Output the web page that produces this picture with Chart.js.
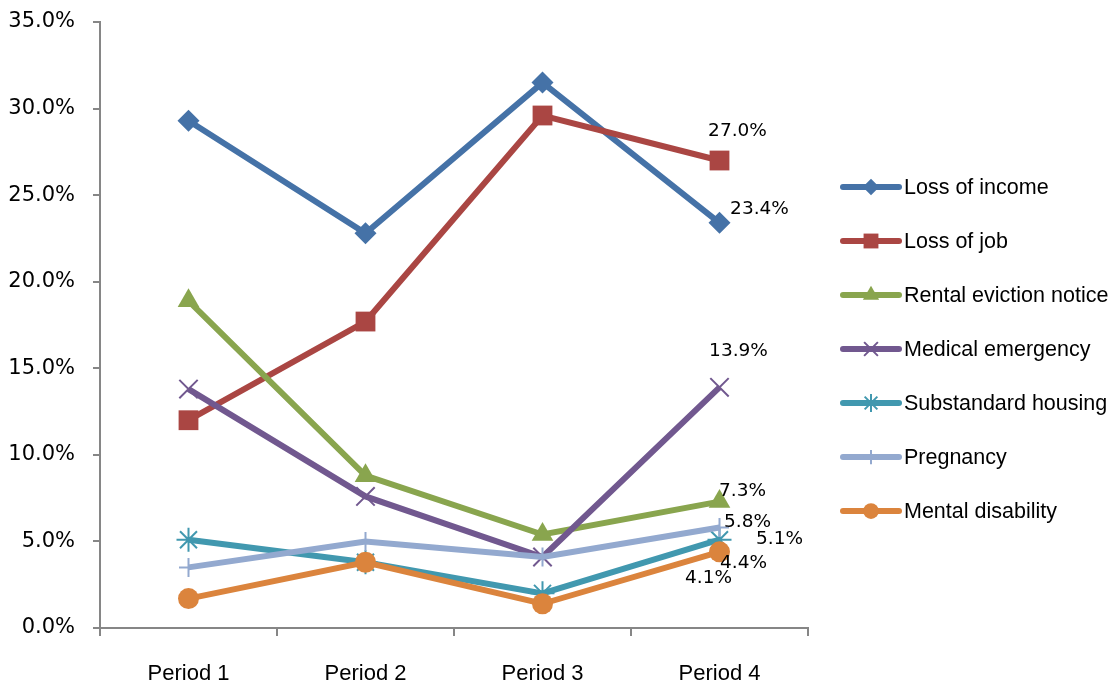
<!DOCTYPE html>
<html>
<head>
<meta charset="utf-8">
<script src="https://cdn.jsdelivr.net/npm/chart.js@4/dist/chart.umd.min.js"></script>
<style>
  html, body { margin: 0; padding: 0; background: #ffffff; }
  #wrap { width: 1118px; height: 684px; position: relative; }
</style>
</head>
<body>
<div id="wrap"><canvas id="c" width="1118" height="684"></canvas></div>
<script>
// Categories and tick values
const periods = ['Period 1', 'Period 2', 'Period 3', 'Period 4'];
const yTicks = [0, 5, 10, 15, 20, 25, 30, 35];

// Series values (percent)
const lossOfIncome        = [29.3, 22.8, 31.5, 23.4];
const lossOfJob           = [12.0, 17.7, 29.6, 27.0];
const rentalEviction      = [18.9, 8.8, 5.4, 7.3];
const medicalEmergency    = [13.8, 7.6, 4.1, 13.9];
const substandardHousing  = [5.1, 3.8, 2.0, 5.1];
const pregnancy           = [3.5, 5.0, 4.1, 5.8];
const mentalDisability    = [1.7, 3.8, 1.4, 4.4];

const seriesNames = ['Loss of income', 'Loss of job', 'Rental eviction notice',
  'Medical emergency', 'Substandard housing', 'Pregnancy', 'Mental disability'];
const seriesData = [lossOfIncome, lossOfJob, rentalEviction, medicalEmergency,
  substandardHousing, pregnancy, mentalDisability];

const colors = ['#4572A7', '#AA4643', '#89A54E', '#71588F', '#4198AF', '#93A9CF', '#DB843D'];
const markers = [
  { style: 'rectRot', r: 11, bw: 0 },
  { style: 'rect', r: 14, bw: 0 },
  { style: 'triangle', r: 12.5, bw: 0 },
  { style: 'crossRot', r: 13, bw: 2 },
  { style: 'star', r: 12, bw: 2 },
  { style: 'cross', r: 9.5, bw: 2 },
  { style: 'circle', r: 10.5, bw: 0 }
];

// Data labels: series index, point index, text offset from the point
const valueLabels = [
  { s: 1, i: 3, dx: 18, dy: -29 },
  { s: 0, i: 3, dx: 40, dy: -14 },
  { s: 3, i: 3, dx: 19, dy: -36 },
  { s: 2, i: 3, dx: 23, dy: -10 },
  { s: 5, i: 3, dx: 28, dy: -5 },
  { s: 4, i: 3, dx: 60, dy: -1 },
  { s: 6, i: 3, dx: 24, dy: 11 },
  { s: 3, i: 2, dx: 0, dy: 21, atIndex: 3, atDx: -11 }
];

const datasets = seriesNames.map((name, k) => ({
  label: name,
  data: seriesData[k],
  borderColor: colors[k],
  backgroundColor: colors[k],
  borderWidth: 6,
  tension: 0,
  clip: false,
  pointStyle: markers[k].style,
  pointRadius: markers[k].r,
  pointHoverRadius: markers[k].r,
  pointBorderWidth: markers[k].bw,
  pointBorderColor: colors[k],
  pointBackgroundColor: colors[k],
  order: seriesNames.length - k
}));

const labelPlugin = {
  id: 'valueLabels',
  afterDatasetsDraw(chart) {
    const ctx = chart.ctx;
    const xs = chart.scales.x, ys = chart.scales.y;
    ctx.save();
    ctx.font = '18.5px "DejaVu Sans"';
    ctx.fillStyle = '#000000';
    ctx.textAlign = 'center';
    ctx.textBaseline = 'middle';
    valueLabels.forEach(l => {
      const v = seriesData[l.s][l.i];
      let x;
      if (l.atIndex !== undefined) {
        x = xs.getPixelForValue(l.atIndex) + l.atDx;
      } else {
        x = xs.getPixelForValue(l.i) + l.dx;
      }
      const y = ys.getPixelForValue(v) + l.dy;
      ctx.fillText(v.toFixed(1) + '%', x, y);
    });
    ctx.restore();
  }
};

const legendPlugin = {
  id: 'sideLegend',
  afterDraw(chart) {
    const ctx = chart.ctx;
    const area = chart.chartArea;
    const x0 = area.right + 35;
    const y0 = area.top + 165;
    const step = 54;
    ctx.save();
    seriesNames.forEach((name, k) => {
      const y = y0 + k * step;
      ctx.strokeStyle = colors[k];
      ctx.lineWidth = 6;
      ctx.lineCap = 'round';
      ctx.beginPath();
      ctx.moveTo(x0, y);
      ctx.lineTo(x0 + 56, y);
      ctx.stroke();
      ctx.lineCap = 'butt';
      ctx.fillStyle = colors[k];
      ctx.strokeStyle = colors[k];
      ctx.lineWidth = markers[k].bw;
      Chart.helpers.drawPoint(ctx, {
        pointStyle: markers[k].style,
        radius: markers[k].r * 0.75,
        rotation: 0,
        borderWidth: markers[k].bw
      }, x0 + 28, y);
      ctx.fillStyle = '#000000';
      ctx.font = '21.5px "Liberation Sans"';
      ctx.textAlign = 'left';
      ctx.textBaseline = 'middle';
      ctx.fillText(name, x0 + 61, y + 1);
    });
    ctx.restore();
  }
};

new Chart(document.getElementById('c'), {
  type: 'line',
  data: { labels: periods, datasets },
  options: {
    responsive: false,
    animation: false,
    events: [],
    layout: { autoPadding: false, padding: { top: 22, right: 310, left: 0, bottom: 0 } },
    plugins: { legend: { display: false }, tooltip: { enabled: false } },
    scales: {
      x: {
        offset: true,
        grid: {
          offset: true,
          drawOnChartArea: false,
          drawTicks: true,
          tickLength: 8,
          color: '#868686',
          lineWidth: 2
        },
        border: { color: '#868686', width: 2 },
        ticks: {
          color: '#000000',
          font: { family: 'Liberation Sans', size: 22 },
          padding: 25,
          maxRotation: 0
        },
        afterFit(scale) { scale.height = 56; scale.paddingLeft = 0; scale.paddingRight = 0; }
      },
      y: {
        min: 0,
        max: 35,
        afterBuildTicks(scale) { scale.ticks = yTicks.map(v => ({ value: v })); },
        grid: {
          drawOnChartArea: false,
          drawTicks: true,
          tickLength: 7,
          color: '#868686',
          lineWidth: 2
        },
        border: { color: '#868686', width: 2 },
        ticks: {
          color: '#000000',
          font: { family: 'DejaVu Sans', size: 21 },
          padding: 18,
          callback: v => v.toFixed(1) + '%'
        },
        afterFit(scale) { scale.width = 100; scale.paddingTop = 0; scale.paddingBottom = 0; }
      }
    }
  },
  plugins: [labelPlugin, legendPlugin]
});
</script>
</body>
</html>
